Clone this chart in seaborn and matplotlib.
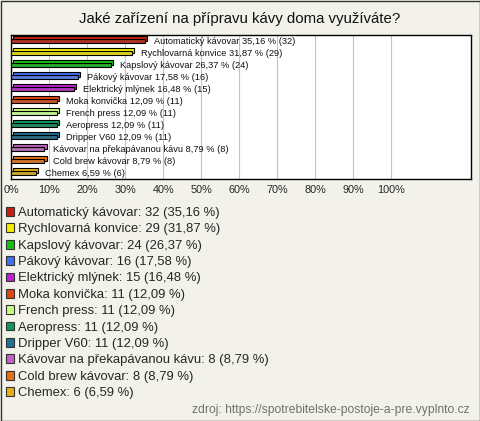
import seaborn as sns
import numpy as np
import pandas as pd
import matplotlib.pyplot as plt
import matplotlib.patheffects as pe
from matplotlib.patches import Patch, Rectangle

sns.set_style("white")
plt.rcParams['font.family'] = ['Liberation Sans', 'DejaVu Sans']

title = "Jaké zařízení na přípravu kávy doma využíváte?"
kategorie = ["Automatický kávovar", "Rychlovarná konvice", "Kapslový kávovar",
             "Pákový kávovar", "Elektrický mlýnek", "Moka konvička",
             "French press", "Aeropress", "Dripper V60",
             "Kávovar na překapávanou kávu", "Cold brew kávovar", "Chemex"]
pocty = [32, 29, 24, 16, 15, 11, 11, 11, 11, 8, 8, 6]
procenta = [35.16, 31.87, 26.37, 17.58, 16.48, 12.09, 12.09, 12.09, 12.09, 8.79, 8.79, 6.59]
barvy = ["#c42010", "#f8ee00", "#14c014", "#4070f0", "#c020d0", "#e04410",
         "#c4ff84", "#109860", "#207090", "#c060c0", "#e87010", "#e8b010"]
zdroj = "zdroj: https://spotrebitelske-postoje-a-pre.vyplnto.cz"

bg = "#f3f2ea"
df = pd.DataFrame({"kat": kategorie, "pct": procenta, "n": pocty})

fig = plt.figure(figsize=(4.8, 4.21), dpi=100, facecolor=bg)
ax = fig.add_axes([11/480, 1-179/421, 460/480, 144/421])
ax.set_facecolor("white")

sns.barplot(data=df, x="pct", y="kat", hue="kat", palette=barvy, legend=False,
            width=0.38, edgecolor="black", linewidth=0.8, ax=ax, zorder=3)

# 3D look: offset copy of each bar behind it
for p, c in zip(ax.patches, barvy):
    p.set_path_effects([pe.PathPatchEffect(offset=(1.6, 1.6), facecolor=c,
                                           edgecolor="black", linewidth=0.8),
                        pe.Normal()])

for i, (k, v, n) in enumerate(zip(kategorie, procenta, pocty)):
    lab = f"{k} {v:.2f} % ({n})".replace(".", ",")
    ax.annotate(lab, (v, i), xytext=(6.5, 0), textcoords="offset points",
                va="center", ha="left", fontsize=6.7, color="#111111")

ax.set_xlim(0, 121)
ax.set_ylim(11.5, -0.5)
ax.set_xticks(np.arange(0, 101, 10))
ax.set_xticklabels([f"{t}%" for t in range(0, 101, 10)], fontsize=7.8)
ax.set_yticks([])
ax.set_xlabel("")
ax.set_ylabel("")
ax.grid(axis="x", color="#c4c4c4", linewidth=0.8, zorder=0)
ax.tick_params(axis="x", length=0, pad=4)
for s in ax.spines.values():
    s.set_visible(True)
    s.set_color("black")
    s.set_linewidth(1)

fig.text(0.5, 1-19/421, title, ha="center", va="center", fontsize=10.8, color="#111111")

handles = [Patch(facecolor=c, edgecolor="#333333", linewidth=0.8) for c in barvy]
labels = [f"{k}: {n} ({v:.2f} %)".replace(".", ",") for k, v, n in zip(kategorie, procenta, pocty)]
fig.legend(handles, labels, loc="upper left", bbox_to_anchor=(6/480, 1-207/421),
           frameon=False, fontsize=9.4, handlelength=0.65, handleheight=0.65,
           handletextpad=0.25, labelspacing=0.335, borderpad=0, borderaxespad=0)

fig.text(470/480, 1-410/421, zdroj, ha="right", va="center", fontsize=8.7, color="#707070")

fig.patches.append(Rectangle((0.5/480, 0.5/421), 479/480, 420/421, transform=fig.transFigure,
                             fill=False, edgecolor="#333333", linewidth=1))

fig.savefig("out.png", dpi=100, facecolor=bg)
